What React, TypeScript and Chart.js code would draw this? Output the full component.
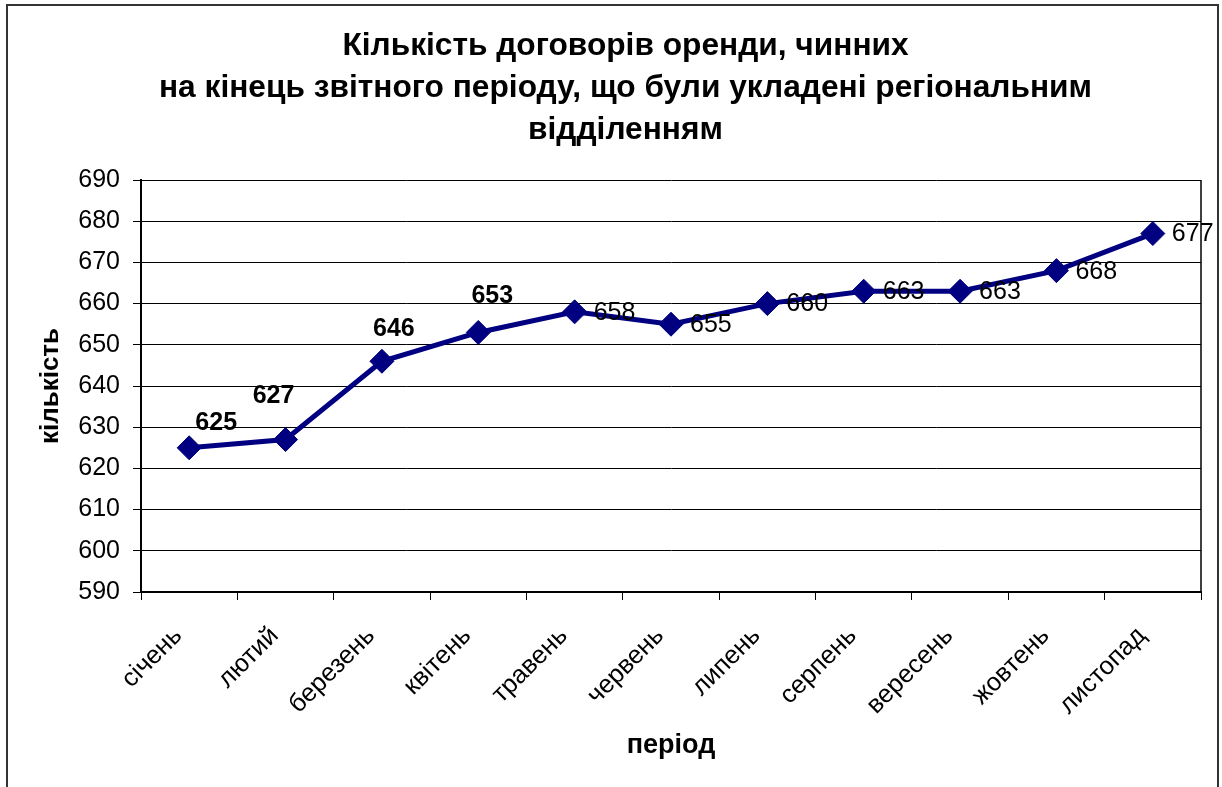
import React, { useEffect, useRef } from "react";
import { Chart, registerables } from "chart.js";

Chart.register(...registerables);

const months = [
  "січень",
  "лютий",
  "березень",
  "квітень",
  "травень",
  "червень",
  "липень",
  "серпень",
  "вересень",
  "жовтень",
  "листопад",
];
const contracts = [625, 627, 646, 653, 658, 655, 660, 663, 663, 668, 677];
const yMin = 590;
const yMax = 690;
const yStep = 10;
const titleLines = [
  "Кількість договорів оренди, чинних",
  "на кінець звітного періоду, що були укладені регіональним",
  "відділенням",
];
const yTitle = "кількість";
const xTitle = "період";

// label styling (separate from data)
const labelBold = [true, true, true, true, false, false, false, false, false, false, false];
const labelShift = [
  [27, -25],
  [-12, -43],
  [12, -32],
  [14, -36],
  [19, 1],
  [19, 1],
  [19, 1],
  [19, 1],
  [19, 1],
  [19, 1],
  [19, 1],
];

const FONT = "'Liberation Sans', Arial, sans-serif";
const NAVY = "#000080";

const decorPlugin = {
  id: "decor",
  beforeDraw(chart: any) {
    const { ctx, width, height } = chart;
    ctx.save();
    ctx.fillStyle = "#ffffff";
    ctx.fillRect(0, 0, width, height);
    ctx.restore();
  },
  beforeDatasetsDraw(chart: any) {
    const { ctx, chartArea } = chart;
    ctx.save();
    ctx.strokeStyle = "#000000";
    ctx.lineWidth = 1.5;
    ctx.beginPath();
    ctx.moveTo(chartArea.right, chartArea.top);
    ctx.lineTo(chartArea.right, chartArea.bottom);
    ctx.stroke();
    ctx.restore();
  },
  afterDraw(chart: any) {
    const { ctx, height } = chart;
    ctx.save();
    // outer frame (top, left, right)
    ctx.strokeStyle = "#333333";
    ctx.lineWidth = 2;
    ctx.beginPath();
    ctx.moveTo(7, height + 2);
    ctx.lineTo(7, 5);
    ctx.lineTo(1218, 5);
    ctx.lineTo(1218, height + 2);
    ctx.stroke();

    // axis titles
    ctx.fillStyle = "#000000";
    ctx.textAlign = "center";
    ctx.textBaseline = "middle";
    ctx.save();
    ctx.font = `bold 26px ${FONT}`;
    ctx.translate(51, 386);
    ctx.rotate(-Math.PI / 2);
    ctx.fillText(yTitle, 0, 0);
    ctx.restore();
    ctx.font = `bold 27px ${FONT}`;
    ctx.fillText(xTitle, 671, 746);

    // data labels
    const meta = chart.getDatasetMeta(0);
    meta.data.forEach((pt: any, i: number) => {
      const v = chart.data.datasets[0].data[i];
      const [dx, dy] = labelShift[i];
      if (labelBold[i]) {
        ctx.font = `bold 25px ${FONT}`;
        ctx.textAlign = "center";
      } else {
        ctx.font = `25px ${FONT}`;
        ctx.textAlign = "left";
      }
      ctx.textBaseline = "middle";
      ctx.fillText(String(v), pt.x + dx, pt.y + dy);
    });
    ctx.restore();
  },
};

export default function App() {
  const canvasRef = useRef<HTMLCanvasElement | null>(null);

  useEffect(() => {
    const canvas = canvasRef.current;
    if (!canvas) return;
    const chart = new Chart(canvas, {
      type: "line",
      data: {
        labels: months,
        datasets: [
          {
            label: "кількість",
            data: contracts,
            borderColor: NAVY,
            backgroundColor: NAVY,
            borderWidth: 5,
            pointStyle: "rectRot",
            pointRadius: 12,
            pointHoverRadius: 12,
            pointBackgroundColor: NAVY,
            pointBorderColor: NAVY,
            pointBorderWidth: 1,
            tension: 0,
            fill: false,
          },
        ],
      },
      options: {
        responsive: false,
        animation: false,
        events: [],
        layout: { padding: { left: 50, right: 21, top: 0, bottom: 0 } },
        plugins: {
          legend: { display: false },
          tooltip: { enabled: false },
          title: {
            display: true,
            text: titleLines,
            color: "#000000",
            font: { family: FONT, size: 31.7, weight: "bold", lineHeight: "42px" },
            padding: { top: 25, bottom: 29 },
          },
        },
        scales: {
          x: {
            type: "category",
            offset: true,
            grid: {
              offset: true,
              drawOnChartArea: false,
              drawTicks: true,
              tickLength: 8,
              color: "#000000",
              lineWidth: 1,
            },
            border: { display: true, color: "#000000", width: 2 },
            ticks: {
              autoSkip: false,
              maxRotation: 45,
              minRotation: 45,
              padding: 21,
              labelOffset: -11,
              color: "#000000",
              font: { family: FONT, size: 25.5 },
            },
            afterFit(scale: any) {
              scale.height = 195;
            },
          },
          y: {
            min: yMin,
            max: yMax,
            grid: {
              drawTicks: true,
              tickLength: 8,
              color: "#000000",
              lineWidth: 1,
            },
            border: { display: true, color: "#000000", width: 2 },
            ticks: {
              stepSize: yStep,
              padding: 13,
              color: "#000000",
              font: { family: FONT, size: 25 },
            },
            afterFit(scale: any) {
              scale.width = 91;
            },
          },
        },
      },
      plugins: [decorPlugin],
    });
    return () => chart.destroy();
  }, []);

  return (
    <div style={{ position: "absolute", left: 0, top: 0, width: 1222, height: 787 }}>
      <canvas ref={canvasRef} width={1222} height={787} style={{ display: "block" }} />
    </div>
  );
}
